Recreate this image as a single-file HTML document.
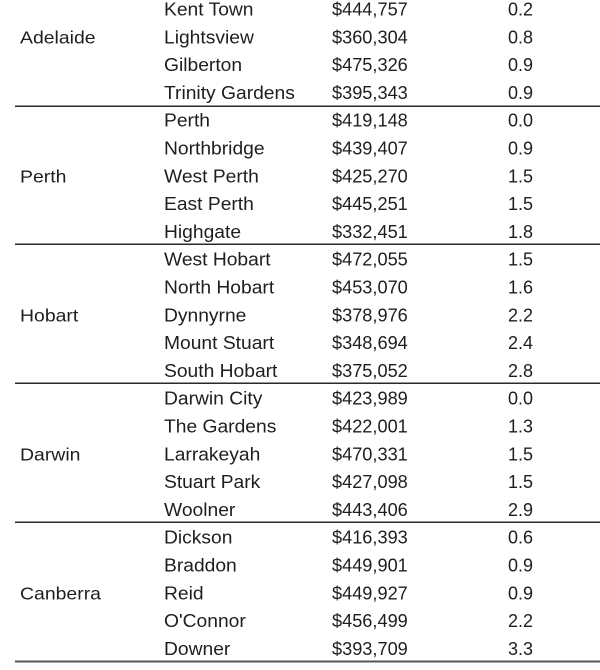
<!DOCTYPE html>
<html>
<head>
<meta charset="utf-8">
<style>
html,body{margin:0;padding:0;background:#fff;}
svg{display:block;}
text{font-family:"Liberation Sans",Arial,sans-serif;font-size:18px;fill:#1e1e1e;}
</style>
</head>
<body>
<svg width="600" height="670" viewBox="0 0 600 670" xmlns="http://www.w3.org/2000/svg">
<rect width="600" height="670" fill="#fff"/>
<!-- separators -->
<rect x="15" y="105.5" width="585" height="1.5" fill="#2a2a2a"/>
<rect x="15" y="243.5" width="585" height="1.5" fill="#2a2a2a"/>
<rect x="15" y="382.5" width="585" height="1.5" fill="#2a2a2a"/>
<rect x="15" y="521.5" width="585" height="1.5" fill="#2a2a2a"/>
<rect x="15" y="660.5" width="585" height="2" fill="#555"/>

<!-- city labels -->
<g transform="translate(20,0) scale(1.08,1)">
<text x="0" y="43.3">Adelaide</text>
<text x="0" y="182.3">Perth</text>
<text x="0" y="321.3">Hobart</text>
<text x="0" y="460.3">Darwin</text>
<text x="0" y="599.3">Canberra</text>
</g>

<!-- suburbs -->
<g transform="translate(164,0) scale(1.07,1)">
<text x="0" y="15.5">Kent Town</text>
<text x="0" y="43.3">Lightsview</text>
<text x="0" y="71.1">Gilberton</text>
<text x="0" y="98.9">Trinity Gardens</text>
<text x="0" y="126.7">Perth</text>
<text x="0" y="154.5">Northbridge</text>
<text x="0" y="182.3">West Perth</text>
<text x="0" y="210.1">East Perth</text>
<text x="0" y="237.9">Highgate</text>
<text x="0" y="265.7">West Hobart</text>
<text x="0" y="293.5">North Hobart</text>
<text x="0" y="321.3">Dynnyrne</text>
<text x="0" y="349.1">Mount Stuart</text>
<text x="0" y="376.9">South Hobart</text>
<text x="0" y="404.7">Darwin City</text>
<text x="0" y="432.5">The Gardens</text>
<text x="0" y="460.3">Larrakeyah</text>
<text x="0" y="488.1">Stuart Park</text>
<text x="0" y="515.9">Woolner</text>
<text x="0" y="543.7">Dickson</text>
<text x="0" y="571.5">Braddon</text>
<text x="0" y="599.3">Reid</text>
<text x="0" y="627.1">O'Connor</text>
<text x="0" y="654.9">Downer</text>
</g>

<!-- prices -->
<g transform="translate(332,0) scale(1.01,1)">
<text x="0" y="15.5">$444,757</text>
<text x="0" y="43.3">$360,304</text>
<text x="0" y="71.1">$475,326</text>
<text x="0" y="98.9">$395,343</text>
<text x="0" y="126.7">$419,148</text>
<text x="0" y="154.5">$439,407</text>
<text x="0" y="182.3">$425,270</text>
<text x="0" y="210.1">$445,251</text>
<text x="0" y="237.9">$332,451</text>
<text x="0" y="265.7">$472,055</text>
<text x="0" y="293.5">$453,070</text>
<text x="0" y="321.3">$378,976</text>
<text x="0" y="349.1">$348,694</text>
<text x="0" y="376.9">$375,052</text>
<text x="0" y="404.7">$423,989</text>
<text x="0" y="432.5">$422,001</text>
<text x="0" y="460.3">$470,331</text>
<text x="0" y="488.1">$427,098</text>
<text x="0" y="515.9">$443,406</text>
<text x="0" y="543.7">$416,393</text>
<text x="0" y="571.5">$449,901</text>
<text x="0" y="599.3">$449,927</text>
<text x="0" y="627.1">$456,499</text>
<text x="0" y="654.9">$393,709</text>
</g>

<!-- change -->
<g transform="translate(508,0)">
<text x="0" y="15.5">0.2</text>
<text x="0" y="43.3">0.8</text>
<text x="0" y="71.1">0.9</text>
<text x="0" y="98.9">0.9</text>
<text x="0" y="126.7">0.0</text>
<text x="0" y="154.5">0.9</text>
<text x="0" y="182.3">1.5</text>
<text x="0" y="210.1">1.5</text>
<text x="0" y="237.9">1.8</text>
<text x="0" y="265.7">1.5</text>
<text x="0" y="293.5">1.6</text>
<text x="0" y="321.3">2.2</text>
<text x="0" y="349.1">2.4</text>
<text x="0" y="376.9">2.8</text>
<text x="0" y="404.7">0.0</text>
<text x="0" y="432.5">1.3</text>
<text x="0" y="460.3">1.5</text>
<text x="0" y="488.1">1.5</text>
<text x="0" y="515.9">2.9</text>
<text x="0" y="543.7">0.6</text>
<text x="0" y="571.5">0.9</text>
<text x="0" y="599.3">0.9</text>
<text x="0" y="627.1">2.2</text>
<text x="0" y="654.9">3.3</text>
</g>
</svg>
</body>
</html>
